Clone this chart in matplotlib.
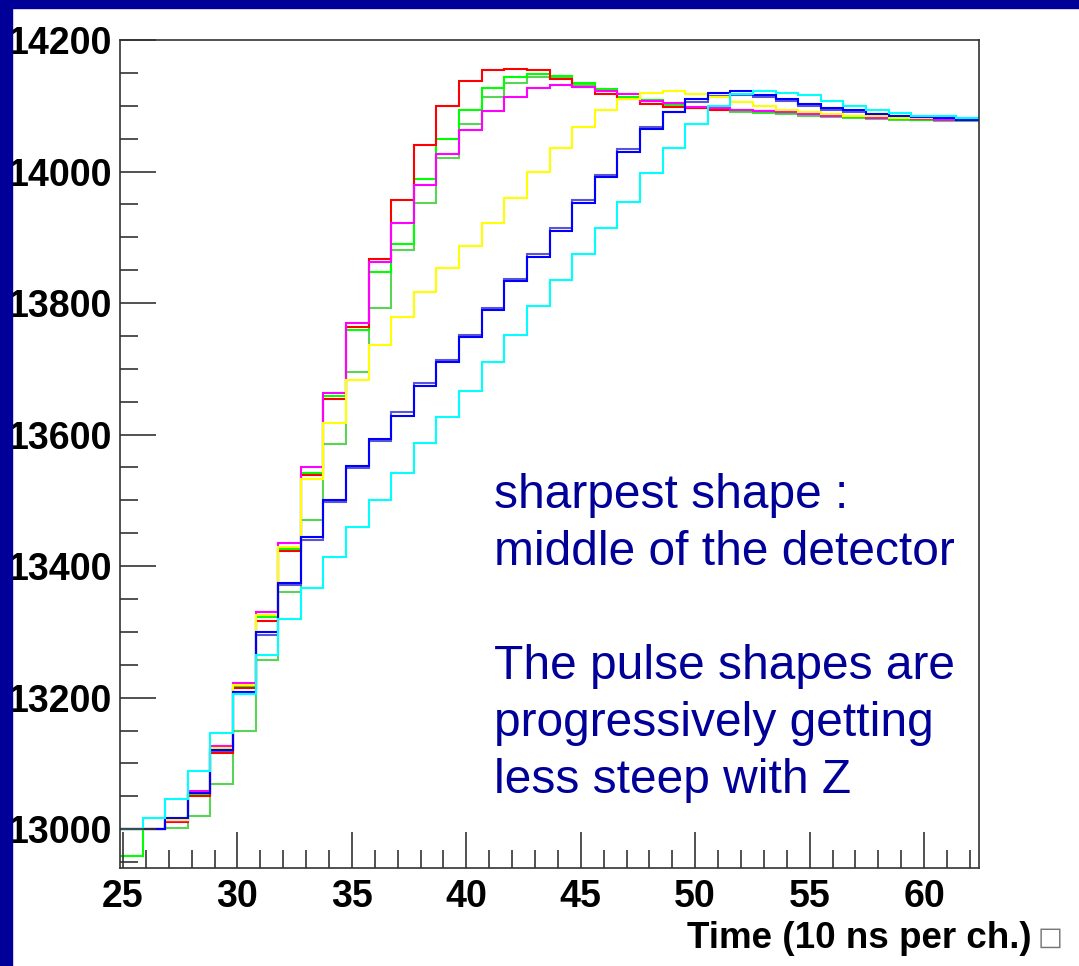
import matplotlib
matplotlib.use('Agg')
import matplotlib.pyplot as plt
from matplotlib.patches import Rectangle
from matplotlib.ticker import MultipleLocator
import numpy as np

plt.rcParams['font.family'] = ['Liberation Sans', 'DejaVu Sans']

# channel bins (38 bins spanning the axis)
edges = np.linspace(24.87, 62.4, 39)

red = [13000, 13000, 13011, 13051, 13116, 13214, 13317, 13423, 13539, 13654,
       13763, 13867, 13957, 14041, 14100, 14137, 14154, 14156, 14154, 14140,
       14129, 14118, 14110, 14103, 14098, 14096, 14094, 14093, 14092, 14090,
       14088, 14085, 14084, 14082, 14081, 14080, 14080, 14079]
green = [12960, 13000, 13012, 13053, 13120, 13216, 13323, 13426, 13542, 13658,
         13759, 13847, 13890, 13989, 14049, 14094, 14127, 14144, 14149, 14145,
         14134, 14126, 14114, 14109, 14103, 14097, 14095, 14092, 14091, 14089,
         14087, 14085, 14083, 14082, 14080, 14079, 14079, 14078]
magenta = [13000, 13000, 13013, 13058, 13126, 13222, 13330, 13435, 13551, 13663,
           13769, 13862, 13922, 13979, 14026, 14063, 14092, 14113, 14127, 14132,
           14129, 14122, 14118, 14108, 14104, 14098, 14096, 14094, 14092, 14090,
           14087, 14085, 14084, 14082, 14081, 14080, 14079, 14078]
yellow = [13000, 13000, 13014, 13055, 13124, 13219, 13325, 13429, 13532, 13617,
          13683, 13736, 13779, 13817, 13853, 13887, 13922, 13960, 13999, 14036,
          14068, 14094, 14111, 14120, 14122, 14118, 14113, 14105, 14100, 14094,
          14090, 14087, 14085, 14084, 14082, 14081, 14081, 14080]
blue = [13000, 13000, 13017, 13055, 13121, 13209, 13300, 13375, 13444, 13500,
        13552, 13593, 13629, 13674, 13710, 13748, 13789, 13833, 13870, 13910,
        13952, 13991, 14030, 14064, 14091, 14110, 14120, 14123, 14117, 14111,
        14103, 14097, 14093, 14088, 14085, 14083, 14081, 14079]
violet = [13000, 13000, 13015, 13053, 13118, 13205, 13295, 13371, 13440, 13497,
          13549, 13591, 13634, 13678, 13714, 13752, 13793, 13837, 13874, 13914,
          13956, 13995, 14034, 14067, 14090, 14106, 14115, 14117, 14113, 14107,
          14100, 14094, 14091, 14087, 14084, 14082, 14080, 14078]
cyan = [13000, 13017, 13046, 13089, 13147, 13205, 13265, 13320, 13367, 13414,
        13459, 13500, 13542, 13587, 13627, 13667, 13710, 13752, 13795, 13835,
        13875, 13914, 13954, 13998, 14036, 14073, 14099, 14118, 14122, 14120,
        14117, 14107, 14099, 14093, 14089, 14085, 14084, 14081]
dimgreen = [13000, 13000, 13002, 13020, 13069, 13150, 13257, 13360, 13470, 13586,
            13695, 13792, 13880, 13952, 14020, 14073, 14113, 14135, 14143, 14142,
            14132, 14124, 14113, 14107, 14101, 14096, 14093, 14090, 14089, 14087,
            14085, 14083, 14082, 14080, 14079, 14078, 14077, 14077]

series = [(dimgreen, '#59d454'), (violet, '#5954d9'), (green, '#00ff00'),
          (red, '#ff0000'), (magenta, '#ff00ff'), (yellow, '#ffff00'),
          (blue, '#0000ff'), (cyan, '#00ffff')]

fig = plt.figure(figsize=(10.79, 9.66), dpi=100)
fig.patches.append(Rectangle((0, 0), 12/1079, 1, transform=fig.transFigure,
                             color='#000099', zorder=0))
fig.patches.append(Rectangle((0, 1-8/966), 1, 8/966, transform=fig.transFigure,
                             color='#000099', zorder=0))

ax = fig.add_axes([120/1079, 1-868/966, 859/1079, 828/966])
for vals, col in series:
    ax.stairs(vals, edges, color=col, lw=1.5, baseline=None)

ax.set_xlim(edges[0], edges[-1])
ax.set_ylim(12941, 14200)
ax.set_xticks([25, 30, 35, 40, 45, 50, 55, 60])
ax.set_yticks([13000, 13200, 13400, 13600, 13800, 14000, 14200])
ax.xaxis.set_minor_locator(MultipleLocator(1))
ax.yaxis.set_minor_locator(MultipleLocator(50))
ax.tick_params(which='major', direction='in', length=26, width=1.2,
               labelsize=27, color='#333333')
ax.tick_params(which='minor', direction='in', length=13, width=1.2,
               color='#333333')
ax.tick_params(axis='y', pad=6)
ax.tick_params(axis='x', pad=8)
for lab in ax.get_xticklabels() + ax.get_yticklabels():
    lab.set_fontweight('bold')
for sp in ax.spines.values():
    sp.set_linewidth(1.2)
    sp.set_color('#333333')

fig.text(1032/1079, 1-938/966, 'Time (10 ns per ch.)', ha='right', va='center',
         fontsize=26.5, fontweight='bold')
fig.text(1038/1079, 1-938/966, '\u25a1', ha='left', va='center',
         fontsize=19, color='#777777', family=['DejaVu Sans'])

ax.text(494/1079, 1-473/966,
        'sharpest shape :\nmiddle of the detector\n\nThe pulse shapes are\n'
        'progressively getting\nless steep with Z',
        transform=fig.transFigure, ha='left', va='top', fontsize=34.5,
        color='#000099', linespacing=1.345)

plt.savefig('out.png', dpi=100)
